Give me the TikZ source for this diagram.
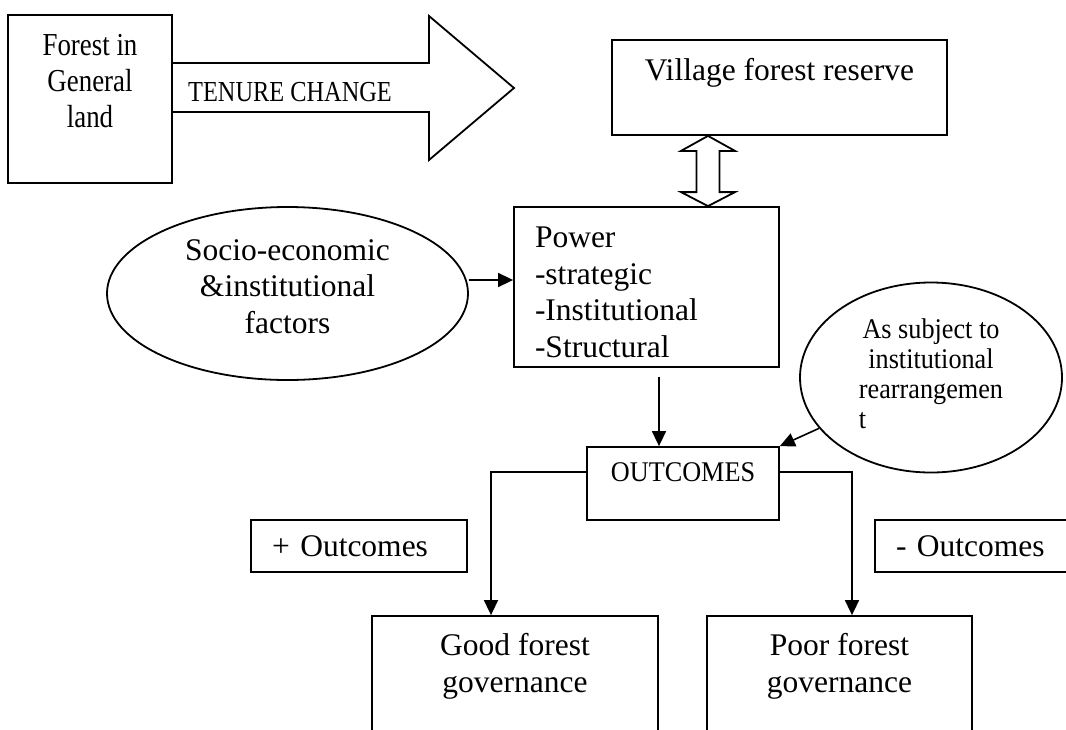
\documentclass[tikz,border=0pt]{standalone}
\usepackage{fontspec}
\setmainfont{Liberation Serif}
\newfontfamily\narrowfont[FakeStretch=0.84]{Liberation Serif}
\newfontfamily\slimfont[FakeStretch=0.92]{Liberation Serif}
\usetikzlibrary{arrows.meta,shapes.geometric,calc}
\tikzset{
box/.style={
draw,
line width=1.8pt,
inner sep=4pt,
align=center,
font=\fontsize{31.5}{36.7}\selectfont
},
oval/.style={
draw,
ellipse,
line width=1.8pt,
inner sep=2pt,
align=center,
font=\fontsize{31.5}{36.7}\selectfont
},
tag/.style={
box,
align=left,
inner xsep=21pt,
text width=174pt,
minimum height=52pt
},
bigline/.style={
line width=1.8pt,
line join=miter
},
arrow/.style={
-{Triangle[length=15pt,width=14pt]},
line width=1.6pt
}
}

\begin{document}
\begin{tikzpicture}[x=1pt,y=-1pt]
\useasboundingbox (0,0) rectangle (1066,729);
\clip (0,0) rectangle (1066,729);

\node[box,minimum width=164pt,minimum height=168pt,font=\narrowfont\fontsize{32}{36}\selectfont](land) at (90,99){Forest in\\General\\land\\\mbox{}};
\node[box,minimum width=335pt,minimum height=95pt,text depth=36.5pt](village) at (779.5,87.5){Village forest reserve};
\node[box,align=left,inner xsep=21pt,text width=223pt,minimum height=160pt,text height=31pt](power) at (646.5,287){Power\\-strategic\\-Institutional\\-Structural};
\node[oval,minimum width=361pt,minimum height=173pt,text depth=14pt](socio) at (287.5,293.5){Socio-economic\\\&institutional\\factors};
\node[oval,minimum width=262pt,minimum height=190pt,text depth=7pt,font=\slimfont\fontsize{28.5}{30}\selectfont](asr) at (931,377.5){As subject to\\institutional\\rearrangemen\\\rlap{t}\phantom{rearrangemen}};
\node[box,minimum width=192pt,minimum height=73pt,font=\slimfont\fontsize{28.5}{30}\selectfont,text depth=22pt](outcomes) at (683,483.5){OUTCOMES};
\node[tag](plus) at (359,546){+ Outcomes};
\node[tag](minus) at (983,546){- Outcomes};
\node[box,minimum width=286pt,minimum height=130pt](good) at (515,681){Good forest\\governance\\\mbox{}};
\node[box,minimum width=265pt,minimum height=130pt](poor) at (839.5,681){Poor forest\\governance\\\mbox{}};

% tenure change arrow
\coordinate (tenuretip) at (514,88);
\draw[bigline] (land.east |- 0,63) -- (429,63) -- (429,16) -- (tenuretip) -- (429,160) -- (429,112) -- (land.east |- 0,112);
\node[font=\narrowfont\fontsize{29}{30}\selectfont,anchor=base](tenure) at (290,101.5){TENURE CHANGE};

% two way arrow
\path (village.south -| 708,0) coordinate (dtop) (power.north -| 708,0) coordinate (dbot);
\draw[bigline] (dtop) -- ++(27,15) -- ++(-15.5,0) -- ($(dbot)+(11.5,-14)$) -- ++(15.5,0) -- (dbot)
 -- ++(-27,-14) -- ++(15.5,0) -- ($(dtop)+(-11.5,15)$) -- ++(-15.5,0) -- cycle;

\draw[arrow]([yshift=13.5pt]socio.east) -- ([yshift=13.5pt]socio.east -| power.west);
\draw[arrow]($(power.south -| 659,0)+(0,9)$) -- (outcomes.north -| 659,0);
\draw[arrow](asr) -- (outcomes.north east);
\draw[arrow]($(outcomes.west)+(0,-11.5)$) -| ($(good.north)+(-24,0)$);
\draw[arrow]($(outcomes.east)+(0,-11.5)$) -| ($(poor.north)+(12.5,0)$);
\end{tikzpicture}
\end{document}
